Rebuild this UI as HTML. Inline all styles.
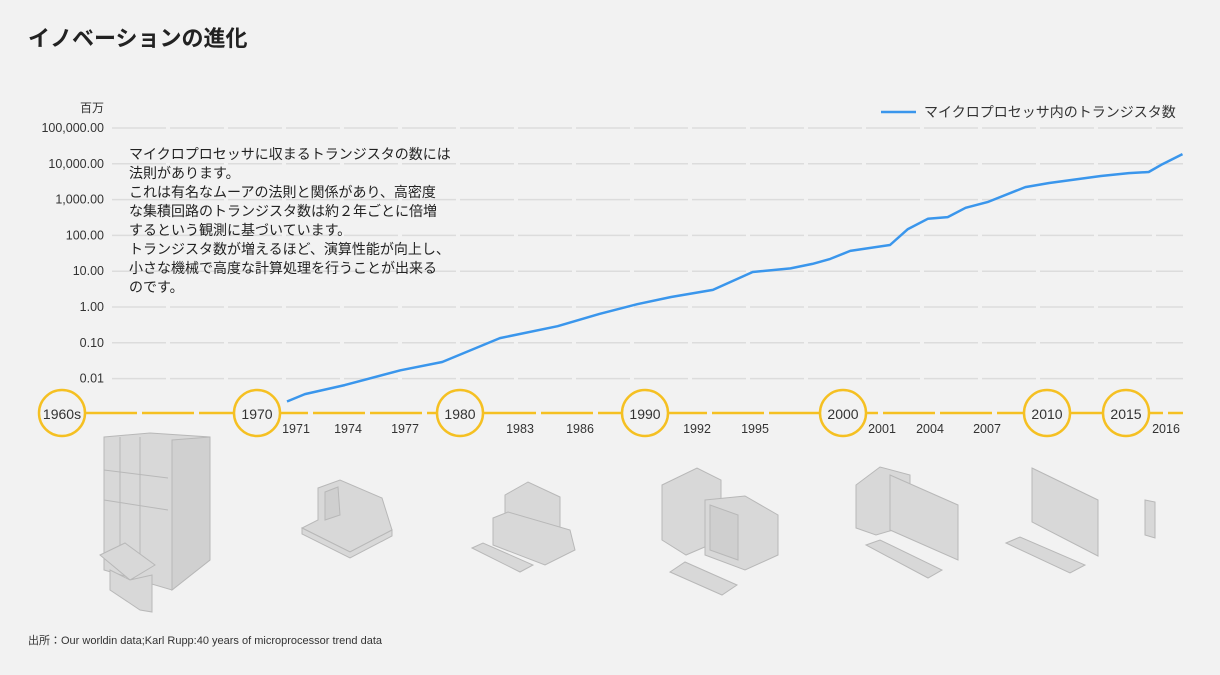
<!DOCTYPE html>
<html><head><meta charset="utf-8"><style>
body{margin:0;background:#f2f2f2;font-family:"Liberation Sans","Noto Sans CJK JP",sans-serif;}
svg{display:block}
</style></head><body>
<svg width="1220" height="675" viewBox="0 0 1220 675" xmlns="http://www.w3.org/2000/svg" font-family="'Liberation Sans','Noto Sans CJK JP',sans-serif">
<rect width="1220" height="675" fill="#f2f2f2"/>
<text x="28" y="46" font-size="22" font-weight="bold" fill="#222">イノベーションの進化</text>
<text x="104" y="112" font-size="12" fill="#333" text-anchor="end">百万</text>
<g id="grid"></g>
<g id="ylabels"></g>
<g>
<line x1="881" y1="112" x2="916" y2="112" stroke="#3a96ec" stroke-width="2.5"/>
<text x="924" y="117" font-size="14" fill="#333">マイクロプロセッサ内のトランジスタ数</text>
</g>
<g font-size="14" fill="#222">
<text x="129" y="159">マイクロプロセッサに収まるトランジスタの数には</text>
<text x="129" y="178">法則があります。</text>
<text x="129" y="197">これは有名なムーアの法則と関係があり、高密度</text>
<text x="129" y="216">な集積回路のトランジスタ数は約２年ごとに倍増</text>
<text x="129" y="235">するという観測に基づいています。</text>
<text x="129" y="254">トランジスタ数が増えるほど、演算性能が向上し、</text>
<text x="129" y="273">小さな機械で高度な計算処理を行うことが出来る</text>
<text x="129" y="292">のです。</text>
</g>
<g id="timeline"></g>
<path id="series" fill="none" stroke="#3a96ec" stroke-width="2.5" stroke-linejoin="round"/>
<g fill="#d8d8d8" stroke="#b8b8b8" stroke-width="1">
<g>
<polygon points="104,437 150,433 210,437 210,560 172,590 104,570"/>
<polygon points="172,440 210,437 210,560 172,590" fill="#d0d0d0"/>
<line x1="120" y1="437" x2="120" y2="560"/><line x1="140" y1="437" x2="140" y2="570"/><line x1="104" y1="470" x2="168" y2="478"/><line x1="104" y1="500" x2="168" y2="510"/>
<polygon points="100,555 125,543 155,565 130,580"/>
<polygon points="110,570 130,580 152,575 152,612 140,610 110,590"/>
</g>
<g>
<polygon points="318,488 340,480 382,498 392,530 350,552 302,528 318,520"/>
<polygon points="325,492 338,487 340,515 325,520" fill="#cfcfcf"/>
<polygon points="302,528 350,552 392,530 392,536 350,558 302,534"/>
</g>
<g>
<polygon points="505,495 528,482 560,497 560,530 537,538 505,525"/>
<polygon points="493,518 508,512 570,530 575,550 545,565 493,545"/>
<polygon points="472,548 483,543 533,565 520,572"/>
</g>
<g>
<polygon points="662,485 697,468 721,480 721,540 686,555 662,540"/>
<polygon points="705,500 745,496 778,515 778,555 745,570 705,555"/>
<polygon points="710,505 738,515 738,560 710,550" fill="#cfcfcf"/>
<polygon points="670,572 685,562 737,585 722,595"/>
</g>
<g>
<polygon points="856,485 880,467 910,475 910,525 876,535 856,528"/>
<polygon points="890,475 958,505 958,560 890,530"/>
<polygon points="866,545 880,540 942,570 928,578"/>
</g>
<g>
<polygon points="1032,468 1098,500 1098,556 1032,522"/>
<polygon points="1006,543 1020,537 1085,565 1070,573"/>
<polygon points="1145,500 1155,502 1155,538 1145,535"/>
</g>
</g>
<text x="28" y="644" font-size="11" fill="#333">出所：Our worldin data;Karl Rupp:40 years of microprocessor trend data</text>
<script>
const years=[1971,1971.9,1973.9,1976.7,1978.8,1981.7,1984.6,1986.7,1988.6,1990.3,1992.4,1994.4,1996.3,1997.4,1998.3,1999.3,2001.3,2002.2,2003.2,2004.2,2005.1,2006.2,2008.1,2009.3,2011.9,2013.3,2014.3,2015.0,2016];
const transistors=[0.0023,0.0037,0.0066,0.017,0.029,0.135,0.29,0.64,1.2,1.9,3.0,9.5,12,16,22,37,54,150,290,325,590,850,2240,2900,4560,5500,5900,9800,18700];
const yTicks=[100000,10000,1000,100,10,1,0.1,0.01];
const yTickLabels=["100,000.00","10,000.00","1,000.00","100.00","10.00","1.00","0.10","0.01"];
const eraLabels=["1960s","1970","1980","1990","2000","2010","2015"];
const yearLabels=["1971","1974","1977","1983","1986","1992","1995","2001","2004","2007","2016"];
const NS="http://www.w3.org/2000/svg";
function xScale(y){return 287+(y-1971)*19.9;}
function yScale(v){return 307-Math.log10(v)*35.8;}
function mk(t,a,p){const e=document.createElementNS(NS,t);for(const k in a)e.setAttribute(k,a[k]);p.appendChild(e);return e;}
const grid=document.getElementById('grid'),yl=document.getElementById('ylabels');
yTicks.forEach((v,i)=>{
 const l=mk('line',{x1:112,x2:1183,y1:yScale(v),y2:yScale(v),stroke:'#dcdcdc','stroke-width':1.5,'stroke-dasharray':'54 4'},grid);
 
 
 const t=mk('text',{x:104,y:yScale(v)+4,'font-size':12.5,fill:'#333','text-anchor':'end'},yl);
 t.textContent=yTickLabels[i];
 
 
});
document.getElementById('series').setAttribute('d',years.map((y,i)=>(i?'L':'M')+xScale(y).toFixed(1)+','+yScale(transistors[i]).toFixed(1)).join(''));
const tl=document.getElementById('timeline');
const eraX=[62,257,460,645,843,1047,1126];
mk('line',{x1:85,x2:1183,y1:413,y2:413,stroke:'#f5c022','stroke-width':2.5,'stroke-dasharray':'52 5'},tl);
eraLabels.forEach((s,i)=>{
 const c=mk('circle',{cx:eraX[i],cy:413,r:23,fill:'#f2f2f2',stroke:'#f5c022','stroke-width':2.5},tl);
 
 
 const t=mk('text',{x:eraX[i],y:419,'font-size':14,fill:'#333','text-anchor':'middle'},tl);
 t.textContent=s;
 
 
});
const yearX=[296,348,405,520,580,697,755,882,930,987,1166];
yearLabels.forEach((s,i)=>{
 const t=mk('text',{x:yearX[i],y:433,'font-size':12.5,fill:'#333','text-anchor':'middle'},tl);
 t.textContent=s;
 
 
});
</script>
</svg>
</body></html>
